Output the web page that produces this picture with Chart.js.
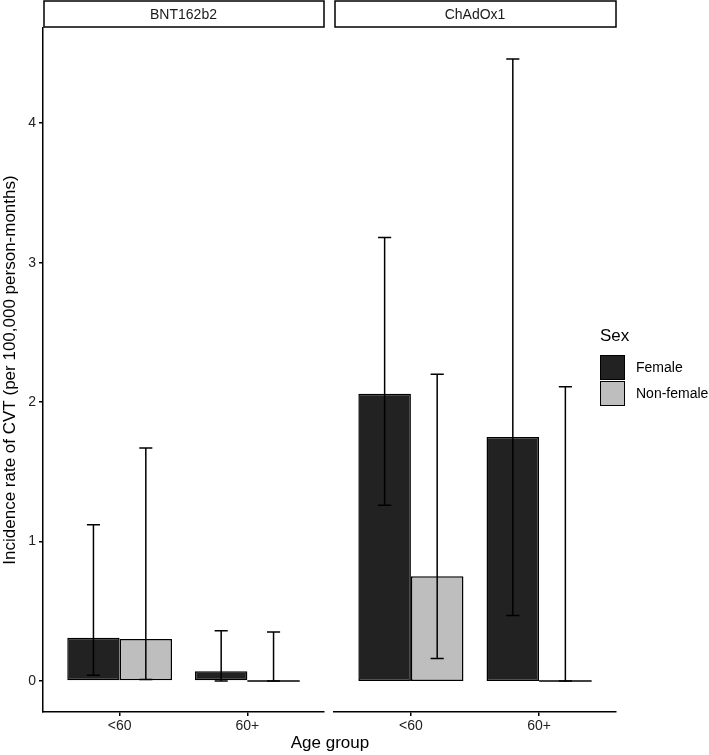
<!DOCTYPE html>
<html>
<head>
<meta charset="utf-8">
<script src="https://cdn.jsdelivr.net/npm/chart.js@4"></script>
<style>
  html, body { margin: 0; padding: 0; background: #fff; }
  body { width: 709px; height: 755px; position: relative; overflow: hidden;
         font-family: "Liberation Sans", Arial, sans-serif; }
  .panel { position: absolute; top: 0; height: 755px; }
  #xTitle { position: absolute; left: 0; width: 660px; top: 733px; text-align: center;
            font-size: 17px; color: #000; }
  #legend { position: absolute; left: 600px; top: 326px; color: #000; }
  #legend .title { font-size: 17px; margin-bottom: 8px; }
  #legend .row { display: flex; align-items: center; height: 26px; font-size: 14px; }
  #legend .key { width: 23px; height: 23px; border: 1.5px solid #000; margin-right: 11px; }
</style>
</head>
<body>

<div class="panel" style="left:0; width:326px;"><canvas id="panelBNT"></canvas></div>
<div class="panel" style="left:330px; width:379px;"><canvas id="panelCHA"></canvas></div>
<div id="xTitle">Age group</div>
<div id="legend">
  <div class="title">Sex</div>
  <div class="row"><div class="key" style="background:#222222"></div>Female</div>
  <div class="row"><div class="key" style="background:#bebebe"></div>Non-female</div>
</div>

<script>
// ==========================
// Data
// ==========================
const ageGroups = ["<60", "60+"];
const vaccines = ["BNT162b2", "ChAdOx1"];
const sexes = ["Female", "Non-female"];
const yTicks = [0, 1, 2, 3, 4];

// BNT162b2
const bntFemale = [0.31, 0.07];
const bntFemaleLow = [0.04, 0.0];
const bntFemaleHigh = [1.12, 0.36];
const bntNonFemale = [0.30, 0];
const bntNonFemaleLow = [0.01, 0];
const bntNonFemaleHigh = [1.67, 0.35];

// ChAdOx1
const chaFemale = [2.06, 1.75];
const chaFemaleLow = [1.26, 0.47];
const chaFemaleHigh = [3.18, 4.46];
const chaNonFemale = [0.75, 0];
const chaNonFemaleLow = [0.16, 0];
const chaNonFemaleHigh = [2.20, 2.11];

const fillColors = ["#222222", "#bebebe"];

// ggplot-style expansion of the y range (5% each side of 0..max)
const yMax = 4.46;
const yMin = -0.05 * yMax;
const yTop = yMax * 1.05;


// ===========================
// Error bars + strip plugin
// ===========================
const facetPlugin = {
    id: "facet",
    afterDatasetsDraw(chart) {
        const ctx = chart.ctx;
        const yScale = chart.scales.y;
        const y0 = yScale.getPixelForValue(0);

        ctx.save();
        ctx.strokeStyle = "#000";
        ctx.lineWidth = 1.5;

        chart.data.datasets.forEach((ds, i) => {
            const meta = chart.getDatasetMeta(i);
            meta.data.forEach((bar, j) => {
                // zero-height bars still show their outline as a flat line
                if (ds.data[j].y === 0) {
                    ctx.beginPath();
                    ctx.moveTo(bar.x - bar.width / 2, y0);
                    ctx.lineTo(bar.x + bar.width / 2, y0);
                    ctx.stroke();
                }
                const lo = yScale.getPixelForValue(ds.low[j]);
                const hi = yScale.getPixelForValue(ds.high[j]);
                const cap = bar.width * 0.125;
                ctx.beginPath();
                ctx.moveTo(bar.x, lo);
                ctx.lineTo(bar.x, hi);
                ctx.moveTo(bar.x - cap, hi);
                ctx.lineTo(bar.x + cap, hi);
                ctx.moveTo(bar.x - cap, lo);
                ctx.lineTo(bar.x + cap, lo);
                ctx.stroke();
            });
        });
        ctx.restore();
    },
    afterDraw(chart) {
        const ctx = chart.ctx;
        const area = chart.chartArea;
        const label = chart.options.plugins.facet.label;
        ctx.save();
        ctx.fillStyle = "#fff";
        ctx.strokeStyle = "#000";
        ctx.lineWidth = 1.5;
        ctx.fillRect(area.left + 1, 1, area.right - area.left - 1, 26);
        ctx.strokeRect(area.left + 1, 1, area.right - area.left - 1, 26);
        ctx.fillStyle = "#1a1a1a";
        ctx.font = "14px 'Liberation Sans', Arial, sans-serif";
        ctx.textAlign = "center";
        ctx.textBaseline = "middle";
        ctx.fillText(label, (area.left + area.right) / 2, 15);
        ctx.restore();
    }
};


function makeDataset(sexIndex, values, low, high) {
    return {
        label: sexes[sexIndex],
        data: ageGroups.map((g, i) => ({ x: i + 1, y: values[i] })),
        low: low,
        high: high,
        backgroundColor: fillColors[sexIndex],
        borderColor: "#000",
        borderWidth: 1.5,
        borderSkipped: false,
        categoryPercentage: 0.82,
        barPercentage: 1.0
    };
}


function buildPanel(canvasId, vaccine, datasets, showYAxis, padding) {
    return new Chart(document.getElementById(canvasId), {
        type: "bar",
        data: { datasets: datasets },
        options: {
            responsive: true,
            maintainAspectRatio: false,
            animation: false,
            layout: { padding: padding },
            plugins: {
                legend: { display: false },
                tooltip: { enabled: false },
                facet: { label: vaccine }
            },
            scales: {
                x: {
                    type: "linear",
                    offset: false,
                    min: 0.4,
                    max: 2.6,
                    afterBuildTicks: s => { s.ticks = ageGroups.map((g, i) => ({ value: i + 1 })); },
                    afterFit: s => { s.height = 43; },
                    grid: { display: true, offset: false, drawOnChartArea: false, color: "#000", tickLength: 4, lineWidth: 1.5 },
                    border: { display: true, color: "#000", width: 1.5 },
                    ticks: {
                        color: "#222",
                        padding: 2,
                        font: { size: 14, family: "'Liberation Sans', Arial, sans-serif" },
                        callback: v => ageGroups[Math.round(v) - 1]
                    }
                },
                y: {
                    display: showYAxis,
                    min: yMin,
                    max: yTop,
                    afterBuildTicks: s => { s.ticks = yTicks.map(v => ({ value: v })); },
                    afterFit: s => { s.width = showYAxis ? 43 : 0; },
                    grid: { display: true, drawOnChartArea: false, color: "#000", tickLength: 4, lineWidth: 1.5 },
                    border: { display: true, color: "#000", width: 1.5 },
                    title: {
                        display: true,
                        text: "Incidence rate of CVT (per 100,000 person-months)",
                        color: "#000",
                        padding: 0,
                        font: { size: 17, family: "'Liberation Sans', Arial, sans-serif" }
                    },
                    ticks: {
                        color: "#222",
                        padding: 3,
                        font: { size: 14, family: "'Liberation Sans', Arial, sans-serif" }
                    }
                }
            }
        },
        plugins: [facetPlugin]
    });
}


buildPanel("panelBNT", vaccines[0], [
    makeDataset(0, bntFemale, bntFemaleLow, bntFemaleHigh),
    makeDataset(1, bntNonFemale, bntNonFemaleLow, bntNonFemaleHigh)
], true, { top: 28, right: 2, left: 0, bottom: 0 });

buildPanel("panelCHA", vaccines[1], [
    makeDataset(0, chaFemale, chaFemaleLow, chaFemaleHigh),
    makeDataset(1, chaNonFemale, chaNonFemaleLow, chaNonFemaleHigh)
], false, { top: 28, right: 93, left: 4, bottom: 0 });
</script>
</body>
</html>
